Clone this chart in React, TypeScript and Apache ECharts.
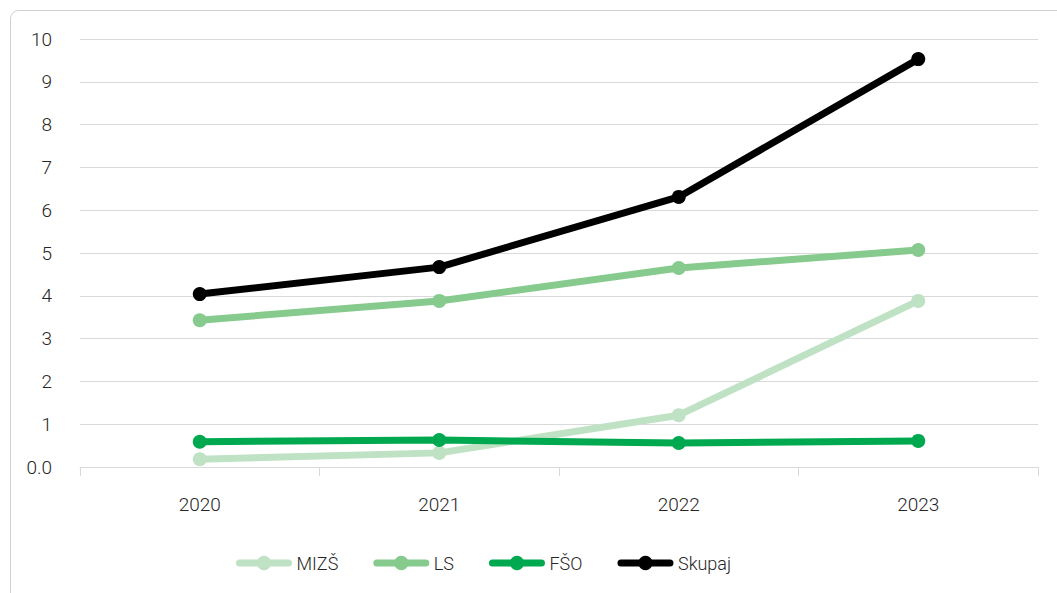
import React, { useEffect, useRef } from "react";
import * as echarts from "echarts";

const years = ["2020", "2021", "2022", "2023"];
const mizs = [0.18, 0.33, 1.21, 3.88];
const ls = [3.43, 3.88, 4.65, 5.07];
const fso = [0.59, 0.63, 0.56, 0.61];
const skupaj = [4.04, 4.67, 6.31, 9.53];

const seriesNames = ["MIZŠ", "LS", "FŠO", "Skupaj"];
const seriesColors = ["#bfe2c5", "#86cb8d", "#00a94f", "#000000"];
const seriesData = [mizs, ls, fso, skupaj];

const FONT = "Roboto";
const TEXT = "#262626";

export default function App() {
  const ref = useRef<HTMLDivElement>(null);
  useEffect(() => {
    if (!ref.current) return;
    const chart = echarts.init(ref.current, null, { renderer: "svg" });
    chart.setOption({
      animation: false,
      backgroundColor: "#ffffff",
      textStyle: { fontFamily: FONT },
      graphic: [
        {
          type: "rect",
          shape: { x: 10.5, y: 10.5, width: 1200, height: 800, r: 8 },
          style: { fill: "none", stroke: "#d0d0d0", lineWidth: 1 },
          silent: true,
        },
      ],
      grid: { left: 80, right: 19, top: 39, bottom: 126 },
      legend: {
        left: 231,
        top: 549,
        itemWidth: 49,
        itemHeight: 18,
        itemGap: 35,
        lineStyle: { width: 7, cap: "round" },
        textStyle: { fontSize: 18, color: TEXT, fontFamily: FONT, fontWeight: 300, padding: [0, 0, 0, 3] },
        data: seriesNames,
      },
      xAxis: {
        type: "category",
        data: years,
        boundaryGap: true,
        axisLine: { show: true, lineStyle: { color: "#d9d9d9", width: 1 } },
        axisTick: { show: true, length: 9, lineStyle: { color: "#d9d9d9" } },
        axisLabel: { fontSize: 19, color: TEXT, margin: 28, fontFamily: FONT, fontWeight: 300 },
        splitLine: { show: false },
      },
      yAxis: {
        type: "value",
        min: 0,
        max: 10,
        interval: 1,
        axisLine: { show: false },
        axisTick: { show: false },
        axisLabel: {
          fontSize: 19,
          color: TEXT,
          margin: 28,
          fontFamily: FONT,
          fontWeight: 300,
          formatter: (v: number) => (v === 0 ? "0.0" : String(v)),
        },
        splitLine: { show: true, lineStyle: { color: "#d9d9d9", width: 1 } },
      },
      series: seriesNames.map((name, i) => ({
        name,
        type: "line",
        data: seriesData[i],
        symbol: "circle",
        symbolSize: 14,
        lineStyle: { width: 7, color: seriesColors[i], cap: "round" },
        itemStyle: { color: seriesColors[i] },
        z: 2 + i,
      })),
    });
    return () => chart.dispose();
  }, []);
  return (
    <div
      ref={ref}
      style={{ position: "fixed", left: 0, top: 0, width: 1057, height: 593 }}
    />
  );
}
